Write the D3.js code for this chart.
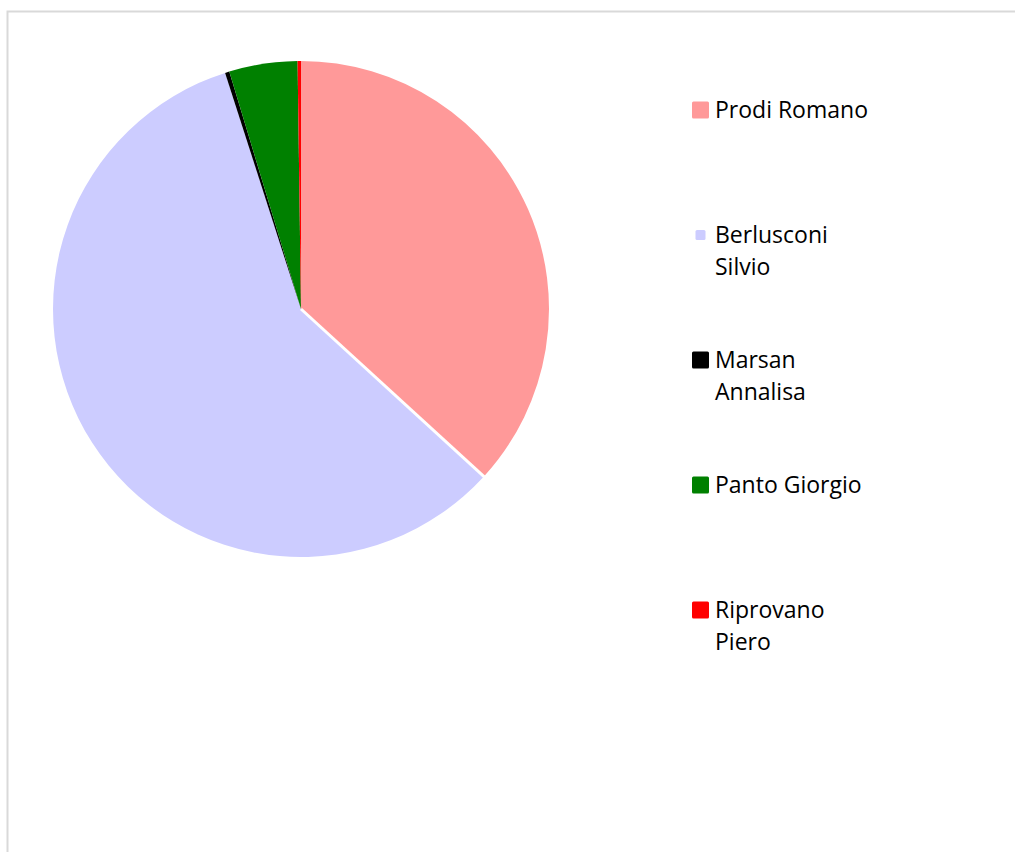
<!DOCTYPE html>
<html>
<head>
<meta charset="utf-8">
<script src="https://cdn.jsdelivr.net/npm/d3@7"></script>
<style>
  html, body { margin: 0; padding: 0; background: #fff; }
  svg { display: block; }
</style>
</head>
<body>
<svg id="chart" width="1015" height="852"></svg>
<script>
// Candidates and their share of the vote (percent)
const candidates = ["Prodi Romano", "Berlusconi Silvio", "Marsan Annalisa", "Panto Giorgio", "Riprovano Piero"];
const legendLines = [["Prodi Romano"], ["Berlusconi", "Silvio"], ["Marsan", "Annalisa"], ["Panto Giorgio"], ["Riprovano", "Piero"]];
const shares = [36.8, 58.25, 0.28, 4.45, 0.22];
const colors = ["#FF9999", "#CCCCFF", "#000000", "#008000", "#FF0000"];

const svg = d3.select("#chart");

// Chart area frame
svg.append("path")
  .attr("d", "M7.5,860 V11.5 H1020")
  .attr("fill", "none")
  .attr("stroke", "#d9d9d9")
  .attr("stroke-width", 2);

const cx = 301, cy = 309, radius = 248;

const pie = d3.pie().sort(null).value(d => d)(shares);
const arc = d3.arc().innerRadius(0).outerRadius(radius);

const g = svg.append("g").attr("transform", `translate(${cx},${cy})`);

g.selectAll("path.slice")
  .data(pie)
  .join("path")
  .attr("class", "slice")
  .attr("d", arc)
  .attr("fill", (d, i) => colors[i]);

// White separator between the first two slices
const sepAngle = pie[0].endAngle;
g.append("line")
  .attr("x1", 0).attr("y1", 0)
  .attr("x2", Math.sin(sepAngle) * (radius + 2))
  .attr("y2", -Math.cos(sepAngle) * (radius + 2))
  .attr("stroke", "#fff")
  .attr("stroke-width", 3);

// Legend
const legend = svg.append("g").attr("class", "legend");
const legendX = 715, firstBaseline = 118, step = 125, lineGap = 32;
const markerSize = [17, 10, 17, 17, 17];

candidates.forEach((name, i) => {
  const base = firstBaseline + i * step;
  const s = markerSize[i];
  legend.append("rect")
    .attr("x", 700.5 - s / 2)
    .attr("y", base - 8 - s / 2)
    .attr("width", s)
    .attr("height", s)
    .attr("rx", 1.5)
    .attr("fill", colors[i]);
  legendLines[i].forEach((line, j) => {
    legend.append("text")
      .attr("x", legendX)
      .attr("y", base + j * lineGap)
      .attr("font-family", "'Open Sans', sans-serif")
      .attr("font-size", 23)
      .attr("fill", "#000")
      .text(line);
  });
});
</script>
</body>
</html>
